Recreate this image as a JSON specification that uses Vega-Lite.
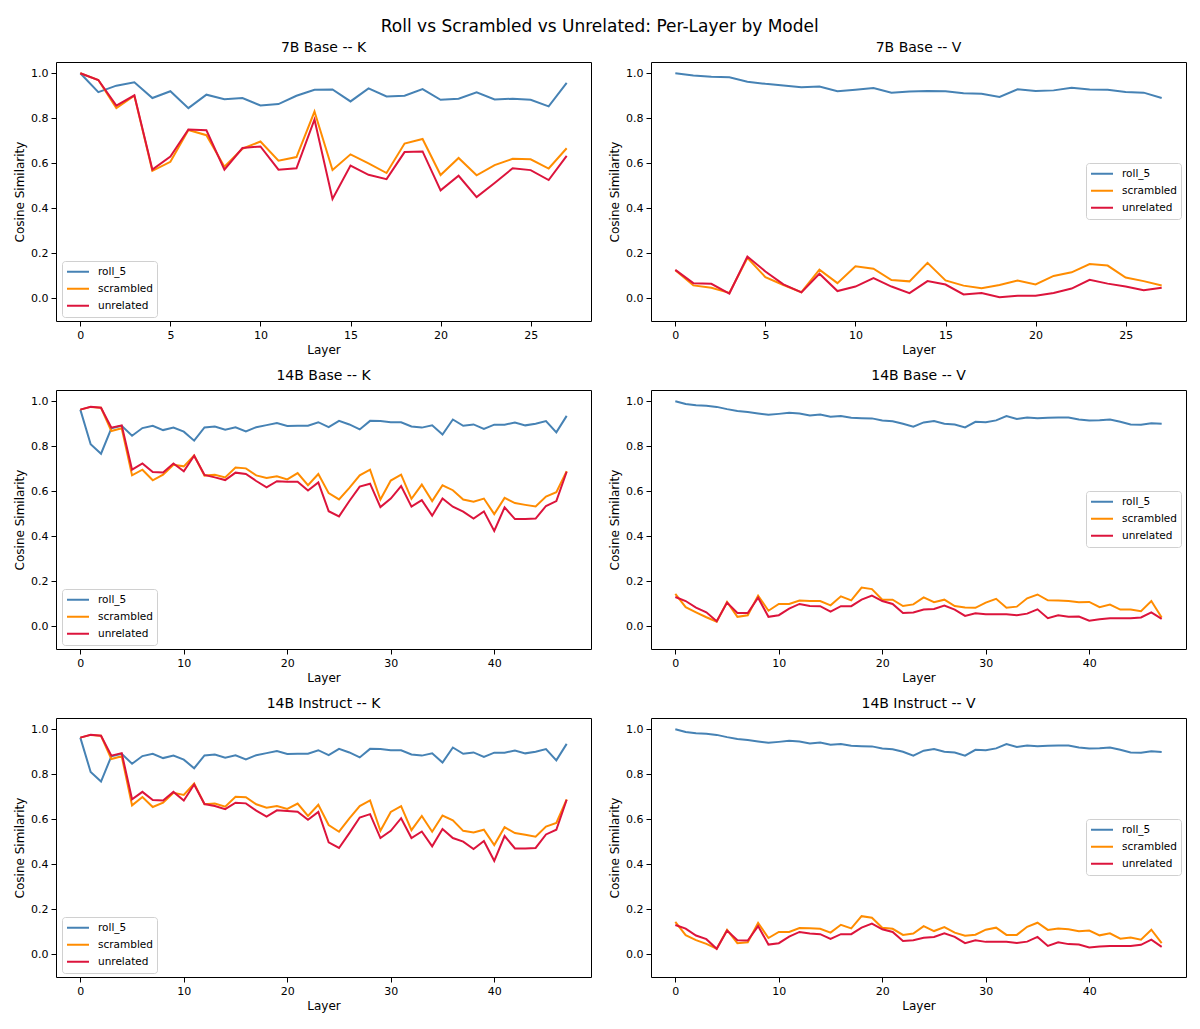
{
"$schema": "https://vega.github.io/schema/vega-lite/v6.json",
"padding": {"left": 13, "top": 17, "right": 5, "bottom": 5},
"title": {"text": "Roll vs Scrambled vs Unrelated: Per-Layer by Model", "fontSize": 17, "fontWeight": "normal", "font": "DejaVu Sans", "color": "black", "anchor": "middle", "offset": 5},
"config": {
  "font": "DejaVu Sans",
  "view": {"stroke": "black", "strokeWidth": 1},
  "axis": {"grid": false, "domain": false, "tickColor": "black", "tickSize": 5, "labelColor": "black", "labelFontSize": 11, "labelPadding": 3, "titleColor": "black", "titleFontSize": 12, "titleFontWeight": "normal", "titlePadding": 4},
  "title": {"fontSize": 14, "fontWeight": "normal", "color": "black", "offset": 7},
  "legend": {"title": null, "symbolType": "stroke", "symbolSize": 484, "symbolStrokeWidth": 2, "clipHeight": 13.5, "rowPadding": 3, "labelFontSize": 10.5, "labelColor": "black", "labelOffset": 8, "padding": 4, "strokeColor": "#d0d0d0", "fillColor": "rgba(255,255,255,0.8)", "cornerRadius": 3}
},
"datasets": {
"k7": [
{"l":0,"c":"roll_5","v":1.0},{"l":1,"c":"roll_5","v":0.916},{"l":2,"c":"roll_5","v":0.945},{"l":3,"c":"roll_5","v":0.96},{"l":4,"c":"roll_5","v":0.89},{"l":5,"c":"roll_5","v":0.92},{"l":6,"c":"roll_5","v":0.845},{"l":7,"c":"roll_5","v":0.905},{"l":8,"c":"roll_5","v":0.885},{"l":9,"c":"roll_5","v":0.89},{"l":10,"c":"roll_5","v":0.857},{"l":11,"c":"roll_5","v":0.863},{"l":12,"c":"roll_5","v":0.9},{"l":13,"c":"roll_5","v":0.927},{"l":14,"c":"roll_5","v":0.928},{"l":15,"c":"roll_5","v":0.875},{"l":16,"c":"roll_5","v":0.933},{"l":17,"c":"roll_5","v":0.897},{"l":18,"c":"roll_5","v":0.9},{"l":19,"c":"roll_5","v":0.93},{"l":20,"c":"roll_5","v":0.882},{"l":21,"c":"roll_5","v":0.887},{"l":22,"c":"roll_5","v":0.915},{"l":23,"c":"roll_5","v":0.884},{"l":24,"c":"roll_5","v":0.887},{"l":25,"c":"roll_5","v":0.882},{"l":26,"c":"roll_5","v":0.853},{"l":27,"c":"roll_5","v":0.957},
{"l":0,"c":"scrambled","v":1.0},{"l":1,"c":"scrambled","v":0.97},{"l":2,"c":"scrambled","v":0.845},{"l":3,"c":"scrambled","v":0.9},{"l":4,"c":"scrambled","v":0.567},{"l":5,"c":"scrambled","v":0.607},{"l":6,"c":"scrambled","v":0.748},{"l":7,"c":"scrambled","v":0.725},{"l":8,"c":"scrambled","v":0.585},{"l":9,"c":"scrambled","v":0.665},{"l":10,"c":"scrambled","v":0.697},{"l":11,"c":"scrambled","v":0.612},{"l":12,"c":"scrambled","v":0.628},{"l":13,"c":"scrambled","v":0.83},{"l":14,"c":"scrambled","v":0.57},{"l":15,"c":"scrambled","v":0.64},{"l":16,"c":"scrambled","v":0.6},{"l":17,"c":"scrambled","v":0.557},{"l":18,"c":"scrambled","v":0.688},{"l":19,"c":"scrambled","v":0.708},{"l":20,"c":"scrambled","v":0.548},{"l":21,"c":"scrambled","v":0.624},{"l":22,"c":"scrambled","v":0.547},{"l":23,"c":"scrambled","v":0.592},{"l":24,"c":"scrambled","v":0.62},{"l":25,"c":"scrambled","v":0.618},{"l":26,"c":"scrambled","v":0.577},{"l":27,"c":"scrambled","v":0.667},
{"l":0,"c":"unrelated","v":1.0},{"l":1,"c":"unrelated","v":0.97},{"l":2,"c":"unrelated","v":0.856},{"l":3,"c":"unrelated","v":0.902},{"l":4,"c":"unrelated","v":0.572},{"l":5,"c":"unrelated","v":0.63},{"l":6,"c":"unrelated","v":0.75},{"l":7,"c":"unrelated","v":0.747},{"l":8,"c":"unrelated","v":0.572},{"l":9,"c":"unrelated","v":0.668},{"l":10,"c":"unrelated","v":0.675},{"l":11,"c":"unrelated","v":0.572},{"l":12,"c":"unrelated","v":0.578},{"l":13,"c":"unrelated","v":0.795},{"l":14,"c":"unrelated","v":0.442},{"l":15,"c":"unrelated","v":0.59},{"l":16,"c":"unrelated","v":0.549},{"l":17,"c":"unrelated","v":0.53},{"l":18,"c":"unrelated","v":0.65},{"l":19,"c":"unrelated","v":0.653},{"l":20,"c":"unrelated","v":0.48},{"l":21,"c":"unrelated","v":0.545},{"l":22,"c":"unrelated","v":0.45},{"l":23,"c":"unrelated","v":0.513},{"l":24,"c":"unrelated","v":0.578},{"l":25,"c":"unrelated","v":0.57},{"l":26,"c":"unrelated","v":0.526},{"l":27,"c":"unrelated","v":0.633}
],
"v7": [
{"l":0,"c":"roll_5","v":1.0},{"l":1,"c":"roll_5","v":0.99},{"l":2,"c":"roll_5","v":0.984},{"l":3,"c":"roll_5","v":0.982},{"l":4,"c":"roll_5","v":0.962},{"l":5,"c":"roll_5","v":0.953},{"l":6,"c":"roll_5","v":0.946},{"l":7,"c":"roll_5","v":0.938},{"l":8,"c":"roll_5","v":0.941},{"l":9,"c":"roll_5","v":0.92},{"l":10,"c":"roll_5","v":0.927},{"l":11,"c":"roll_5","v":0.934},{"l":12,"c":"roll_5","v":0.914},{"l":13,"c":"roll_5","v":0.919},{"l":14,"c":"roll_5","v":0.921},{"l":15,"c":"roll_5","v":0.92},{"l":16,"c":"roll_5","v":0.911},{"l":17,"c":"roll_5","v":0.909},{"l":18,"c":"roll_5","v":0.895},{"l":19,"c":"roll_5","v":0.929},{"l":20,"c":"roll_5","v":0.921},{"l":21,"c":"roll_5","v":0.924},{"l":22,"c":"roll_5","v":0.936},{"l":23,"c":"roll_5","v":0.928},{"l":24,"c":"roll_5","v":0.927},{"l":25,"c":"roll_5","v":0.917},{"l":26,"c":"roll_5","v":0.914},{"l":27,"c":"roll_5","v":0.89},
{"l":0,"c":"scrambled","v":0.125},{"l":1,"c":"scrambled","v":0.058},{"l":2,"c":"scrambled","v":0.048},{"l":3,"c":"scrambled","v":0.025},{"l":4,"c":"scrambled","v":0.18},{"l":5,"c":"scrambled","v":0.095},{"l":6,"c":"scrambled","v":0.06},{"l":7,"c":"scrambled","v":0.028},{"l":8,"c":"scrambled","v":0.128},{"l":9,"c":"scrambled","v":0.068},{"l":10,"c":"scrambled","v":0.143},{"l":11,"c":"scrambled","v":0.132},{"l":12,"c":"scrambled","v":0.082},{"l":13,"c":"scrambled","v":0.076},{"l":14,"c":"scrambled","v":0.158},{"l":15,"c":"scrambled","v":0.08},{"l":16,"c":"scrambled","v":0.057},{"l":17,"c":"scrambled","v":0.046},{"l":18,"c":"scrambled","v":0.06},{"l":19,"c":"scrambled","v":0.08},{"l":20,"c":"scrambled","v":0.062},{"l":21,"c":"scrambled","v":0.1},{"l":22,"c":"scrambled","v":0.116},{"l":23,"c":"scrambled","v":0.153},{"l":24,"c":"scrambled","v":0.146},{"l":25,"c":"scrambled","v":0.093},{"l":26,"c":"scrambled","v":0.077},{"l":27,"c":"scrambled","v":0.058},
{"l":0,"c":"unrelated","v":0.127},{"l":1,"c":"unrelated","v":0.068},{"l":2,"c":"unrelated","v":0.065},{"l":3,"c":"unrelated","v":0.022},{"l":4,"c":"unrelated","v":0.186},{"l":5,"c":"unrelated","v":0.12},{"l":6,"c":"unrelated","v":0.063},{"l":7,"c":"unrelated","v":0.027},{"l":8,"c":"unrelated","v":0.11},{"l":9,"c":"unrelated","v":0.033},{"l":10,"c":"unrelated","v":0.053},{"l":11,"c":"unrelated","v":0.09},{"l":12,"c":"unrelated","v":0.053},{"l":13,"c":"unrelated","v":0.024},{"l":14,"c":"unrelated","v":0.077},{"l":15,"c":"unrelated","v":0.062},{"l":16,"c":"unrelated","v":0.018},{"l":17,"c":"unrelated","v":0.024},{"l":18,"c":"unrelated","v":0.006},{"l":19,"c":"unrelated","v":0.012},{"l":20,"c":"unrelated","v":0.012},{"l":21,"c":"unrelated","v":0.024},{"l":22,"c":"unrelated","v":0.044},{"l":23,"c":"unrelated","v":0.083},{"l":24,"c":"unrelated","v":0.066},{"l":25,"c":"unrelated","v":0.053},{"l":26,"c":"unrelated","v":0.037},{"l":27,"c":"unrelated","v":0.048}
],
"k14": [
{"l":0,"c":"roll_5","v":0.963},{"l":1,"c":"roll_5","v":0.809},{"l":2,"c":"roll_5","v":0.767},{"l":3,"c":"roll_5","v":0.88},{"l":4,"c":"roll_5","v":0.891},{"l":5,"c":"roll_5","v":0.847},{"l":6,"c":"roll_5","v":0.881},{"l":7,"c":"roll_5","v":0.891},{"l":8,"c":"roll_5","v":0.872},{"l":9,"c":"roll_5","v":0.883},{"l":10,"c":"roll_5","v":0.865},{"l":11,"c":"roll_5","v":0.825},{"l":12,"c":"roll_5","v":0.884},{"l":13,"c":"roll_5","v":0.888},{"l":14,"c":"roll_5","v":0.874},{"l":15,"c":"roll_5","v":0.884},{"l":16,"c":"roll_5","v":0.866},{"l":17,"c":"roll_5","v":0.885},{"l":18,"c":"roll_5","v":0.894},{"l":19,"c":"roll_5","v":0.903},{"l":20,"c":"roll_5","v":0.89},{"l":21,"c":"roll_5","v":0.891},{"l":22,"c":"roll_5","v":0.891},{"l":23,"c":"roll_5","v":0.907},{"l":24,"c":"roll_5","v":0.885},{"l":25,"c":"roll_5","v":0.913},{"l":26,"c":"roll_5","v":0.897},{"l":27,"c":"roll_5","v":0.875},{"l":28,"c":"roll_5","v":0.913},{"l":29,"c":"roll_5","v":0.912},{"l":30,"c":"roll_5","v":0.907},{"l":31,"c":"roll_5","v":0.907},{"l":32,"c":"roll_5","v":0.888},{"l":33,"c":"roll_5","v":0.883},{"l":34,"c":"roll_5","v":0.893},{"l":35,"c":"roll_5","v":0.852},{"l":36,"c":"roll_5","v":0.919},{"l":37,"c":"roll_5","v":0.891},{"l":38,"c":"roll_5","v":0.897},{"l":39,"c":"roll_5","v":0.877},{"l":40,"c":"roll_5","v":0.896},{"l":41,"c":"roll_5","v":0.896},{"l":42,"c":"roll_5","v":0.906},{"l":43,"c":"roll_5","v":0.893},{"l":44,"c":"roll_5","v":0.9},{"l":45,"c":"roll_5","v":0.912},{"l":46,"c":"roll_5","v":0.862},{"l":47,"c":"roll_5","v":0.935},
{"l":0,"c":"scrambled","v":0.963},{"l":1,"c":"scrambled","v":0.975},{"l":2,"c":"scrambled","v":0.971},{"l":3,"c":"scrambled","v":0.868},{"l":4,"c":"scrambled","v":0.88},{"l":5,"c":"scrambled","v":0.671},{"l":6,"c":"scrambled","v":0.696},{"l":7,"c":"scrambled","v":0.649},{"l":8,"c":"scrambled","v":0.674},{"l":9,"c":"scrambled","v":0.718},{"l":10,"c":"scrambled","v":0.711},{"l":11,"c":"scrambled","v":0.759},{"l":12,"c":"scrambled","v":0.67},{"l":13,"c":"scrambled","v":0.674},{"l":14,"c":"scrambled","v":0.662},{"l":15,"c":"scrambled","v":0.706},{"l":16,"c":"scrambled","v":0.702},{"l":17,"c":"scrambled","v":0.671},{"l":18,"c":"scrambled","v":0.659},{"l":19,"c":"scrambled","v":0.667},{"l":20,"c":"scrambled","v":0.653},{"l":21,"c":"scrambled","v":0.681},{"l":22,"c":"scrambled","v":0.627},{"l":23,"c":"scrambled","v":0.677},{"l":24,"c":"scrambled","v":0.592},{"l":25,"c":"scrambled","v":0.564},{"l":26,"c":"scrambled","v":0.615},{"l":27,"c":"scrambled","v":0.671},{"l":28,"c":"scrambled","v":0.696},{"l":29,"c":"scrambled","v":0.564},{"l":30,"c":"scrambled","v":0.648},{"l":31,"c":"scrambled","v":0.674},{"l":32,"c":"scrambled","v":0.567},{"l":33,"c":"scrambled","v":0.63},{"l":34,"c":"scrambled","v":0.557},{"l":35,"c":"scrambled","v":0.627},{"l":36,"c":"scrambled","v":0.605},{"l":37,"c":"scrambled","v":0.564},{"l":38,"c":"scrambled","v":0.554},{"l":39,"c":"scrambled","v":0.568},{"l":40,"c":"scrambled","v":0.499},{"l":41,"c":"scrambled","v":0.571},{"l":42,"c":"scrambled","v":0.548},{"l":43,"c":"scrambled","v":0.54},{"l":44,"c":"scrambled","v":0.533},{"l":45,"c":"scrambled","v":0.577},{"l":46,"c":"scrambled","v":0.596},{"l":47,"c":"scrambled","v":0.69},
{"l":0,"c":"unrelated","v":0.963},{"l":1,"c":"unrelated","v":0.976},{"l":2,"c":"unrelated","v":0.971},{"l":3,"c":"unrelated","v":0.883},{"l":4,"c":"unrelated","v":0.893},{"l":5,"c":"unrelated","v":0.696},{"l":6,"c":"unrelated","v":0.724},{"l":7,"c":"unrelated","v":0.686},{"l":8,"c":"unrelated","v":0.684},{"l":9,"c":"unrelated","v":0.724},{"l":10,"c":"unrelated","v":0.689},{"l":11,"c":"unrelated","v":0.758},{"l":12,"c":"unrelated","v":0.673},{"l":13,"c":"unrelated","v":0.662},{"l":14,"c":"unrelated","v":0.65},{"l":15,"c":"unrelated","v":0.683},{"l":16,"c":"unrelated","v":0.677},{"l":17,"c":"unrelated","v":0.646},{"l":18,"c":"unrelated","v":0.618},{"l":19,"c":"unrelated","v":0.645},{"l":20,"c":"unrelated","v":0.643},{"l":21,"c":"unrelated","v":0.643},{"l":22,"c":"unrelated","v":0.604},{"l":23,"c":"unrelated","v":0.64},{"l":24,"c":"unrelated","v":0.512},{"l":25,"c":"unrelated","v":0.489},{"l":26,"c":"unrelated","v":0.557},{"l":27,"c":"unrelated","v":0.621},{"l":28,"c":"unrelated","v":0.634},{"l":29,"c":"unrelated","v":0.53},{"l":30,"c":"unrelated","v":0.568},{"l":31,"c":"unrelated","v":0.623},{"l":32,"c":"unrelated","v":0.532},{"l":33,"c":"unrelated","v":0.561},{"l":34,"c":"unrelated","v":0.492},{"l":35,"c":"unrelated","v":0.568},{"l":36,"c":"unrelated","v":0.532},{"l":37,"c":"unrelated","v":0.51},{"l":38,"c":"unrelated","v":0.479},{"l":39,"c":"unrelated","v":0.511},{"l":40,"c":"unrelated","v":0.424},{"l":41,"c":"unrelated","v":0.529},{"l":42,"c":"unrelated","v":0.477},{"l":43,"c":"unrelated","v":0.477},{"l":44,"c":"unrelated","v":0.479},{"l":45,"c":"unrelated","v":0.535},{"l":46,"c":"unrelated","v":0.557},{"l":47,"c":"unrelated","v":0.687}
],
"v14": [
{"l":0,"c":"roll_5","v":1.0},{"l":1,"c":"roll_5","v":0.988},{"l":2,"c":"roll_5","v":0.982},{"l":3,"c":"roll_5","v":0.98},{"l":4,"c":"roll_5","v":0.975},{"l":5,"c":"roll_5","v":0.965},{"l":6,"c":"roll_5","v":0.957},{"l":7,"c":"roll_5","v":0.952},{"l":8,"c":"roll_5","v":0.946},{"l":9,"c":"roll_5","v":0.94},{"l":10,"c":"roll_5","v":0.944},{"l":11,"c":"roll_5","v":0.949},{"l":12,"c":"roll_5","v":0.946},{"l":13,"c":"roll_5","v":0.937},{"l":14,"c":"roll_5","v":0.941},{"l":15,"c":"roll_5","v":0.931},{"l":16,"c":"roll_5","v":0.934},{"l":17,"c":"roll_5","v":0.927},{"l":18,"c":"roll_5","v":0.925},{"l":19,"c":"roll_5","v":0.924},{"l":20,"c":"roll_5","v":0.915},{"l":21,"c":"roll_5","v":0.911},{"l":22,"c":"roll_5","v":0.9},{"l":23,"c":"roll_5","v":0.887},{"l":24,"c":"roll_5","v":0.906},{"l":25,"c":"roll_5","v":0.912},{"l":26,"c":"roll_5","v":0.9},{"l":27,"c":"roll_5","v":0.897},{"l":28,"c":"roll_5","v":0.884},{"l":29,"c":"roll_5","v":0.909},{"l":30,"c":"roll_5","v":0.907},{"l":31,"c":"roll_5","v":0.915},{"l":32,"c":"roll_5","v":0.934},{"l":33,"c":"roll_5","v":0.921},{"l":34,"c":"roll_5","v":0.928},{"l":35,"c":"roll_5","v":0.925},{"l":36,"c":"roll_5","v":0.927},{"l":37,"c":"roll_5","v":0.928},{"l":38,"c":"roll_5","v":0.928},{"l":39,"c":"roll_5","v":0.919},{"l":40,"c":"roll_5","v":0.915},{"l":41,"c":"roll_5","v":0.916},{"l":42,"c":"roll_5","v":0.919},{"l":43,"c":"roll_5","v":0.909},{"l":44,"c":"roll_5","v":0.897},{"l":45,"c":"roll_5","v":0.896},{"l":46,"c":"roll_5","v":0.902},{"l":47,"c":"roll_5","v":0.9},
{"l":0,"c":"scrambled","v":0.145},{"l":1,"c":"scrambled","v":0.086},{"l":2,"c":"scrambled","v":0.063},{"l":3,"c":"scrambled","v":0.041},{"l":4,"c":"scrambled","v":0.021},{"l":5,"c":"scrambled","v":0.109},{"l":6,"c":"scrambled","v":0.043},{"l":7,"c":"scrambled","v":0.05},{"l":8,"c":"scrambled","v":0.137},{"l":9,"c":"scrambled","v":0.07},{"l":10,"c":"scrambled","v":0.1},{"l":11,"c":"scrambled","v":0.1},{"l":12,"c":"scrambled","v":0.115},{"l":13,"c":"scrambled","v":0.113},{"l":14,"c":"scrambled","v":0.113},{"l":15,"c":"scrambled","v":0.094},{"l":16,"c":"scrambled","v":0.134},{"l":17,"c":"scrambled","v":0.116},{"l":18,"c":"scrambled","v":0.173},{"l":19,"c":"scrambled","v":0.166},{"l":20,"c":"scrambled","v":0.119},{"l":21,"c":"scrambled","v":0.119},{"l":22,"c":"scrambled","v":0.091},{"l":23,"c":"scrambled","v":0.098},{"l":24,"c":"scrambled","v":0.129},{"l":25,"c":"scrambled","v":0.108},{"l":26,"c":"scrambled","v":0.119},{"l":27,"c":"scrambled","v":0.091},{"l":28,"c":"scrambled","v":0.084},{"l":29,"c":"scrambled","v":0.083},{"l":30,"c":"scrambled","v":0.106},{"l":31,"c":"scrambled","v":0.123},{"l":32,"c":"scrambled","v":0.083},{"l":33,"c":"scrambled","v":0.088},{"l":34,"c":"scrambled","v":0.125},{"l":35,"c":"scrambled","v":0.142},{"l":36,"c":"scrambled","v":0.116},{"l":37,"c":"scrambled","v":0.115},{"l":38,"c":"scrambled","v":0.113},{"l":39,"c":"scrambled","v":0.108},{"l":40,"c":"scrambled","v":0.109},{"l":41,"c":"scrambled","v":0.086},{"l":42,"c":"scrambled","v":0.097},{"l":43,"c":"scrambled","v":0.075},{"l":44,"c":"scrambled","v":0.075},{"l":45,"c":"scrambled","v":0.068},{"l":46,"c":"scrambled","v":0.113},{"l":47,"c":"scrambled","v":0.04},
{"l":0,"c":"unrelated","v":0.131},{"l":1,"c":"unrelated","v":0.113},{"l":2,"c":"unrelated","v":0.084},{"l":3,"c":"unrelated","v":0.063},{"l":4,"c":"unrelated","v":0.023},{"l":5,"c":"unrelated","v":0.106},{"l":6,"c":"unrelated","v":0.06},{"l":7,"c":"unrelated","v":0.06},{"l":8,"c":"unrelated","v":0.128},{"l":9,"c":"unrelated","v":0.043},{"l":10,"c":"unrelated","v":0.05},{"l":11,"c":"unrelated","v":0.079},{"l":12,"c":"unrelated","v":0.1},{"l":13,"c":"unrelated","v":0.091},{"l":14,"c":"unrelated","v":0.09},{"l":15,"c":"unrelated","v":0.066},{"l":16,"c":"unrelated","v":0.09},{"l":17,"c":"unrelated","v":0.09},{"l":18,"c":"unrelated","v":0.119},{"l":19,"c":"unrelated","v":0.137},{"l":20,"c":"unrelated","v":0.113},{"l":21,"c":"unrelated","v":0.1},{"l":22,"c":"unrelated","v":0.06},{"l":23,"c":"unrelated","v":0.062},{"l":24,"c":"unrelated","v":0.075},{"l":25,"c":"unrelated","v":0.078},{"l":26,"c":"unrelated","v":0.093},{"l":27,"c":"unrelated","v":0.075},{"l":28,"c":"unrelated","v":0.047},{"l":29,"c":"unrelated","v":0.059},{"l":30,"c":"unrelated","v":0.054},{"l":31,"c":"unrelated","v":0.054},{"l":32,"c":"unrelated","v":0.054},{"l":33,"c":"unrelated","v":0.05},{"l":34,"c":"unrelated","v":0.057},{"l":35,"c":"unrelated","v":0.076},{"l":36,"c":"unrelated","v":0.037},{"l":37,"c":"unrelated","v":0.05},{"l":38,"c":"unrelated","v":0.043},{"l":39,"c":"unrelated","v":0.044},{"l":40,"c":"unrelated","v":0.026},{"l":41,"c":"unrelated","v":0.032},{"l":42,"c":"unrelated","v":0.037},{"l":43,"c":"unrelated","v":0.037},{"l":44,"c":"unrelated","v":0.037},{"l":45,"c":"unrelated","v":0.04},{"l":46,"c":"unrelated","v":0.063},{"l":47,"c":"unrelated","v":0.034}
],
"k14i": [
{"l":0,"c":"roll_5","v":0.963},{"l":1,"c":"roll_5","v":0.81},{"l":2,"c":"roll_5","v":0.768},{"l":3,"c":"roll_5","v":0.88},{"l":4,"c":"roll_5","v":0.891},{"l":5,"c":"roll_5","v":0.847},{"l":6,"c":"roll_5","v":0.881},{"l":7,"c":"roll_5","v":0.891},{"l":8,"c":"roll_5","v":0.872},{"l":9,"c":"roll_5","v":0.883},{"l":10,"c":"roll_5","v":0.865},{"l":11,"c":"roll_5","v":0.827},{"l":12,"c":"roll_5","v":0.884},{"l":13,"c":"roll_5","v":0.888},{"l":14,"c":"roll_5","v":0.874},{"l":15,"c":"roll_5","v":0.884},{"l":16,"c":"roll_5","v":0.866},{"l":17,"c":"roll_5","v":0.885},{"l":18,"c":"roll_5","v":0.894},{"l":19,"c":"roll_5","v":0.903},{"l":20,"c":"roll_5","v":0.89},{"l":21,"c":"roll_5","v":0.891},{"l":22,"c":"roll_5","v":0.891},{"l":23,"c":"roll_5","v":0.907},{"l":24,"c":"roll_5","v":0.885},{"l":25,"c":"roll_5","v":0.913},{"l":26,"c":"roll_5","v":0.897},{"l":27,"c":"roll_5","v":0.875},{"l":28,"c":"roll_5","v":0.913},{"l":29,"c":"roll_5","v":0.912},{"l":30,"c":"roll_5","v":0.907},{"l":31,"c":"roll_5","v":0.907},{"l":32,"c":"roll_5","v":0.888},{"l":33,"c":"roll_5","v":0.883},{"l":34,"c":"roll_5","v":0.893},{"l":35,"c":"roll_5","v":0.852},{"l":36,"c":"roll_5","v":0.919},{"l":37,"c":"roll_5","v":0.891},{"l":38,"c":"roll_5","v":0.897},{"l":39,"c":"roll_5","v":0.877},{"l":40,"c":"roll_5","v":0.896},{"l":41,"c":"roll_5","v":0.896},{"l":42,"c":"roll_5","v":0.906},{"l":43,"c":"roll_5","v":0.893},{"l":44,"c":"roll_5","v":0.9},{"l":45,"c":"roll_5","v":0.912},{"l":46,"c":"roll_5","v":0.862},{"l":47,"c":"roll_5","v":0.935},
{"l":0,"c":"scrambled","v":0.963},{"l":1,"c":"scrambled","v":0.975},{"l":2,"c":"scrambled","v":0.971},{"l":3,"c":"scrambled","v":0.868},{"l":4,"c":"scrambled","v":0.88},{"l":5,"c":"scrambled","v":0.662},{"l":6,"c":"scrambled","v":0.699},{"l":7,"c":"scrambled","v":0.655},{"l":8,"c":"scrambled","v":0.674},{"l":9,"c":"scrambled","v":0.718},{"l":10,"c":"scrambled","v":0.708},{"l":11,"c":"scrambled","v":0.759},{"l":12,"c":"scrambled","v":0.667},{"l":13,"c":"scrambled","v":0.67},{"l":14,"c":"scrambled","v":0.656},{"l":15,"c":"scrambled","v":0.7},{"l":16,"c":"scrambled","v":0.698},{"l":17,"c":"scrambled","v":0.667},{"l":18,"c":"scrambled","v":0.652},{"l":19,"c":"scrambled","v":0.659},{"l":20,"c":"scrambled","v":0.646},{"l":21,"c":"scrambled","v":0.67},{"l":22,"c":"scrambled","v":0.615},{"l":23,"c":"scrambled","v":0.665},{"l":24,"c":"scrambled","v":0.575},{"l":25,"c":"scrambled","v":0.545},{"l":26,"c":"scrambled","v":0.604},{"l":27,"c":"scrambled","v":0.659},{"l":28,"c":"scrambled","v":0.684},{"l":29,"c":"scrambled","v":0.549},{"l":30,"c":"scrambled","v":0.633},{"l":31,"c":"scrambled","v":0.659},{"l":32,"c":"scrambled","v":0.552},{"l":33,"c":"scrambled","v":0.615},{"l":34,"c":"scrambled","v":0.545},{"l":35,"c":"scrambled","v":0.617},{"l":36,"c":"scrambled","v":0.596},{"l":37,"c":"scrambled","v":0.549},{"l":38,"c":"scrambled","v":0.542},{"l":39,"c":"scrambled","v":0.554},{"l":40,"c":"scrambled","v":0.486},{"l":41,"c":"scrambled","v":0.565},{"l":42,"c":"scrambled","v":0.539},{"l":43,"c":"scrambled","v":0.532},{"l":44,"c":"scrambled","v":0.523},{"l":45,"c":"scrambled","v":0.568},{"l":46,"c":"scrambled","v":0.584},{"l":47,"c":"scrambled","v":0.689},
{"l":0,"c":"unrelated","v":0.963},{"l":1,"c":"unrelated","v":0.976},{"l":2,"c":"unrelated","v":0.971},{"l":3,"c":"unrelated","v":0.883},{"l":4,"c":"unrelated","v":0.894},{"l":5,"c":"unrelated","v":0.689},{"l":6,"c":"unrelated","v":0.722},{"l":7,"c":"unrelated","v":0.686},{"l":8,"c":"unrelated","v":0.684},{"l":9,"c":"unrelated","v":0.722},{"l":10,"c":"unrelated","v":0.684},{"l":11,"c":"unrelated","v":0.755},{"l":12,"c":"unrelated","v":0.668},{"l":13,"c":"unrelated","v":0.659},{"l":14,"c":"unrelated","v":0.645},{"l":15,"c":"unrelated","v":0.674},{"l":16,"c":"unrelated","v":0.671},{"l":17,"c":"unrelated","v":0.639},{"l":18,"c":"unrelated","v":0.612},{"l":19,"c":"unrelated","v":0.64},{"l":20,"c":"unrelated","v":0.637},{"l":21,"c":"unrelated","v":0.634},{"l":22,"c":"unrelated","v":0.598},{"l":23,"c":"unrelated","v":0.633},{"l":24,"c":"unrelated","v":0.498},{"l":25,"c":"unrelated","v":0.473},{"l":26,"c":"unrelated","v":0.539},{"l":27,"c":"unrelated","v":0.608},{"l":28,"c":"unrelated","v":0.623},{"l":29,"c":"unrelated","v":0.517},{"l":30,"c":"unrelated","v":0.549},{"l":31,"c":"unrelated","v":0.605},{"l":32,"c":"unrelated","v":0.517},{"l":33,"c":"unrelated","v":0.546},{"l":34,"c":"unrelated","v":0.48},{"l":35,"c":"unrelated","v":0.557},{"l":36,"c":"unrelated","v":0.517},{"l":37,"c":"unrelated","v":0.501},{"l":38,"c":"unrelated","v":0.468},{"l":39,"c":"unrelated","v":0.504},{"l":40,"c":"unrelated","v":0.416},{"l":41,"c":"unrelated","v":0.526},{"l":42,"c":"unrelated","v":0.471},{"l":43,"c":"unrelated","v":0.471},{"l":44,"c":"unrelated","v":0.473},{"l":45,"c":"unrelated","v":0.533},{"l":46,"c":"unrelated","v":0.554},{"l":47,"c":"unrelated","v":0.687}
],
"v14i": [
{"l":0,"c":"roll_5","v":1.0},{"l":1,"c":"roll_5","v":0.988},{"l":2,"c":"roll_5","v":0.982},{"l":3,"c":"roll_5","v":0.98},{"l":4,"c":"roll_5","v":0.975},{"l":5,"c":"roll_5","v":0.965},{"l":6,"c":"roll_5","v":0.957},{"l":7,"c":"roll_5","v":0.952},{"l":8,"c":"roll_5","v":0.946},{"l":9,"c":"roll_5","v":0.94},{"l":10,"c":"roll_5","v":0.944},{"l":11,"c":"roll_5","v":0.949},{"l":12,"c":"roll_5","v":0.946},{"l":13,"c":"roll_5","v":0.937},{"l":14,"c":"roll_5","v":0.941},{"l":15,"c":"roll_5","v":0.931},{"l":16,"c":"roll_5","v":0.934},{"l":17,"c":"roll_5","v":0.927},{"l":18,"c":"roll_5","v":0.925},{"l":19,"c":"roll_5","v":0.924},{"l":20,"c":"roll_5","v":0.915},{"l":21,"c":"roll_5","v":0.911},{"l":22,"c":"roll_5","v":0.9},{"l":23,"c":"roll_5","v":0.883},{"l":24,"c":"roll_5","v":0.905},{"l":25,"c":"roll_5","v":0.912},{"l":26,"c":"roll_5","v":0.9},{"l":27,"c":"roll_5","v":0.897},{"l":28,"c":"roll_5","v":0.883},{"l":29,"c":"roll_5","v":0.909},{"l":30,"c":"roll_5","v":0.907},{"l":31,"c":"roll_5","v":0.915},{"l":32,"c":"roll_5","v":0.934},{"l":33,"c":"roll_5","v":0.921},{"l":34,"c":"roll_5","v":0.928},{"l":35,"c":"roll_5","v":0.925},{"l":36,"c":"roll_5","v":0.927},{"l":37,"c":"roll_5","v":0.928},{"l":38,"c":"roll_5","v":0.928},{"l":39,"c":"roll_5","v":0.919},{"l":40,"c":"roll_5","v":0.915},{"l":41,"c":"roll_5","v":0.916},{"l":42,"c":"roll_5","v":0.919},{"l":43,"c":"roll_5","v":0.909},{"l":44,"c":"roll_5","v":0.897},{"l":45,"c":"roll_5","v":0.896},{"l":46,"c":"roll_5","v":0.902},{"l":47,"c":"roll_5","v":0.899},
{"l":0,"c":"scrambled","v":0.145},{"l":1,"c":"scrambled","v":0.086},{"l":2,"c":"scrambled","v":0.064},{"l":3,"c":"scrambled","v":0.047},{"l":4,"c":"scrambled","v":0.026},{"l":5,"c":"scrambled","v":0.109},{"l":6,"c":"scrambled","v":0.05},{"l":7,"c":"scrambled","v":0.054},{"l":8,"c":"scrambled","v":0.14},{"l":9,"c":"scrambled","v":0.073},{"l":10,"c":"scrambled","v":0.1},{"l":11,"c":"scrambled","v":0.1},{"l":12,"c":"scrambled","v":0.117},{"l":13,"c":"scrambled","v":0.116},{"l":14,"c":"scrambled","v":0.114},{"l":15,"c":"scrambled","v":0.097},{"l":16,"c":"scrambled","v":0.132},{"l":17,"c":"scrambled","v":0.116},{"l":18,"c":"scrambled","v":0.17},{"l":19,"c":"scrambled","v":0.163},{"l":20,"c":"scrambled","v":0.119},{"l":21,"c":"scrambled","v":0.114},{"l":22,"c":"scrambled","v":0.087},{"l":23,"c":"scrambled","v":0.093},{"l":24,"c":"scrambled","v":0.126},{"l":25,"c":"scrambled","v":0.104},{"l":26,"c":"scrambled","v":0.122},{"l":27,"c":"scrambled","v":0.097},{"l":28,"c":"scrambled","v":0.083},{"l":29,"c":"scrambled","v":0.088},{"l":30,"c":"scrambled","v":0.11},{"l":31,"c":"scrambled","v":0.119},{"l":32,"c":"scrambled","v":0.087},{"l":33,"c":"scrambled","v":0.087},{"l":34,"c":"scrambled","v":0.123},{"l":35,"c":"scrambled","v":0.141},{"l":36,"c":"scrambled","v":0.109},{"l":37,"c":"scrambled","v":0.115},{"l":38,"c":"scrambled","v":0.112},{"l":39,"c":"scrambled","v":0.103},{"l":40,"c":"scrambled","v":0.106},{"l":41,"c":"scrambled","v":0.085},{"l":42,"c":"scrambled","v":0.094},{"l":43,"c":"scrambled","v":0.07},{"l":44,"c":"scrambled","v":0.075},{"l":45,"c":"scrambled","v":0.066},{"l":46,"c":"scrambled","v":0.11},{"l":47,"c":"scrambled","v":0.05},
{"l":0,"c":"unrelated","v":0.131},{"l":1,"c":"unrelated","v":0.115},{"l":2,"c":"unrelated","v":0.084},{"l":3,"c":"unrelated","v":0.068},{"l":4,"c":"unrelated","v":0.025},{"l":5,"c":"unrelated","v":0.106},{"l":6,"c":"unrelated","v":0.063},{"l":7,"c":"unrelated","v":0.062},{"l":8,"c":"unrelated","v":0.126},{"l":9,"c":"unrelated","v":0.044},{"l":10,"c":"unrelated","v":0.05},{"l":11,"c":"unrelated","v":0.079},{"l":12,"c":"unrelated","v":0.1},{"l":13,"c":"unrelated","v":0.093},{"l":14,"c":"unrelated","v":0.09},{"l":15,"c":"unrelated","v":0.069},{"l":16,"c":"unrelated","v":0.09},{"l":17,"c":"unrelated","v":0.09},{"l":18,"c":"unrelated","v":0.119},{"l":19,"c":"unrelated","v":0.137},{"l":20,"c":"unrelated","v":0.112},{"l":21,"c":"unrelated","v":0.1},{"l":22,"c":"unrelated","v":0.06},{"l":23,"c":"unrelated","v":0.063},{"l":24,"c":"unrelated","v":0.074},{"l":25,"c":"unrelated","v":0.078},{"l":26,"c":"unrelated","v":0.094},{"l":27,"c":"unrelated","v":0.078},{"l":28,"c":"unrelated","v":0.05},{"l":29,"c":"unrelated","v":0.063},{"l":30,"c":"unrelated","v":0.056},{"l":31,"c":"unrelated","v":0.056},{"l":32,"c":"unrelated","v":0.056},{"l":33,"c":"unrelated","v":0.051},{"l":34,"c":"unrelated","v":0.057},{"l":35,"c":"unrelated","v":0.078},{"l":36,"c":"unrelated","v":0.038},{"l":37,"c":"unrelated","v":0.054},{"l":38,"c":"unrelated","v":0.046},{"l":39,"c":"unrelated","v":0.044},{"l":40,"c":"unrelated","v":0.031},{"l":41,"c":"unrelated","v":0.035},{"l":42,"c":"unrelated","v":0.038},{"l":43,"c":"unrelated","v":0.038},{"l":44,"c":"unrelated","v":0.038},{"l":45,"c":"unrelated","v":0.043},{"l":46,"c":"unrelated","v":0.066},{"l":47,"c":"unrelated","v":0.034}
]
},
"columns": 2,
"spacing": {"row": 12, "column": 16},
"resolve": {"scale": {"x": "independent", "y": "independent", "color": "shared"}, "legend": {"color": "independent"}},
"concat": [
{"title": "7B Base -- K", "width": 535, "height": 259, "data": {"name": "k7"},
 "mark": {"type": "line", "strokeWidth": 2, "clip": true},
 "encoding": {
  "x": {"field": "l", "type": "quantitative", "title": "Layer", "scale": {"domain": [-1.35, 28.35], "nice": false, "zero": false}, "axis": {"values": [0, 5, 10, 15, 20, 25], "format": "d"}},
  "y": {"field": "v", "type": "quantitative", "title": "Cosine Similarity", "scale": {"domain": [-0.1, 1.05], "nice": false, "zero": false}, "axis": {"values": [0, 0.2, 0.4, 0.6, 0.8, 1.0], "format": ".1f"}},
  "color": {"field": "c", "type": "nominal", "scale": {"domain": ["roll_5", "scrambled", "unrelated"], "range": ["#4682b4", "#ff8c00", "#dc143c"]}, "legend": {"orient": "none", "legendX": 6, "legendY": 199}}
 }},
{"title": "7B Base -- V", "width": 535, "height": 259, "data": {"name": "v7"},
 "mark": {"type": "line", "strokeWidth": 2, "clip": true},
 "encoding": {
  "x": {"field": "l", "type": "quantitative", "title": "Layer", "scale": {"domain": [-1.35, 28.35], "nice": false, "zero": false}, "axis": {"values": [0, 5, 10, 15, 20, 25], "format": "d"}},
  "y": {"field": "v", "type": "quantitative", "title": "Cosine Similarity", "scale": {"domain": [-0.1, 1.05], "nice": false, "zero": false}, "axis": {"values": [0, 0.2, 0.4, 0.6, 0.8, 1.0], "format": ".1f"}},
  "color": {"field": "c", "type": "nominal", "scale": {"domain": ["roll_5", "scrambled", "unrelated"], "range": ["#4682b4", "#ff8c00", "#dc143c"]}, "legend": {"orient": "none", "legendX": 435, "legendY": 101}}
 }},
{"title": "14B Base -- K", "width": 535, "height": 259, "data": {"name": "k14"},
 "mark": {"type": "line", "strokeWidth": 2, "clip": true},
 "encoding": {
  "x": {"field": "l", "type": "quantitative", "title": "Layer", "scale": {"domain": [-2.35, 49.35], "nice": false, "zero": false}, "axis": {"values": [0, 10, 20, 30, 40], "format": "d"}},
  "y": {"field": "v", "type": "quantitative", "title": "Cosine Similarity", "scale": {"domain": [-0.1, 1.05], "nice": false, "zero": false}, "axis": {"values": [0, 0.2, 0.4, 0.6, 0.8, 1.0], "format": ".1f"}},
  "color": {"field": "c", "type": "nominal", "scale": {"domain": ["roll_5", "scrambled", "unrelated"], "range": ["#4682b4", "#ff8c00", "#dc143c"]}, "legend": {"orient": "none", "legendX": 6, "legendY": 199}}
 }},
{"title": "14B Base -- V", "width": 535, "height": 259, "data": {"name": "v14"},
 "mark": {"type": "line", "strokeWidth": 2, "clip": true},
 "encoding": {
  "x": {"field": "l", "type": "quantitative", "title": "Layer", "scale": {"domain": [-2.35, 49.35], "nice": false, "zero": false}, "axis": {"values": [0, 10, 20, 30, 40], "format": "d"}},
  "y": {"field": "v", "type": "quantitative", "title": "Cosine Similarity", "scale": {"domain": [-0.1, 1.05], "nice": false, "zero": false}, "axis": {"values": [0, 0.2, 0.4, 0.6, 0.8, 1.0], "format": ".1f"}},
  "color": {"field": "c", "type": "nominal", "scale": {"domain": ["roll_5", "scrambled", "unrelated"], "range": ["#4682b4", "#ff8c00", "#dc143c"]}, "legend": {"orient": "none", "legendX": 435, "legendY": 101}}
 }},
{"title": "14B Instruct -- K", "width": 535, "height": 259, "data": {"name": "k14i"},
 "mark": {"type": "line", "strokeWidth": 2, "clip": true},
 "encoding": {
  "x": {"field": "l", "type": "quantitative", "title": "Layer", "scale": {"domain": [-2.35, 49.35], "nice": false, "zero": false}, "axis": {"values": [0, 10, 20, 30, 40], "format": "d"}},
  "y": {"field": "v", "type": "quantitative", "title": "Cosine Similarity", "scale": {"domain": [-0.1, 1.05], "nice": false, "zero": false}, "axis": {"values": [0, 0.2, 0.4, 0.6, 0.8, 1.0], "format": ".1f"}},
  "color": {"field": "c", "type": "nominal", "scale": {"domain": ["roll_5", "scrambled", "unrelated"], "range": ["#4682b4", "#ff8c00", "#dc143c"]}, "legend": {"orient": "none", "legendX": 6, "legendY": 199}}
 }},
{"title": "14B Instruct -- V", "width": 535, "height": 259, "data": {"name": "v14i"},
 "mark": {"type": "line", "strokeWidth": 2, "clip": true},
 "encoding": {
  "x": {"field": "l", "type": "quantitative", "title": "Layer", "scale": {"domain": [-2.35, 49.35], "nice": false, "zero": false}, "axis": {"values": [0, 10, 20, 30, 40], "format": "d"}},
  "y": {"field": "v", "type": "quantitative", "title": "Cosine Similarity", "scale": {"domain": [-0.1, 1.05], "nice": false, "zero": false}, "axis": {"values": [0, 0.2, 0.4, 0.6, 0.8, 1.0], "format": ".1f"}},
  "color": {"field": "c", "type": "nominal", "scale": {"domain": ["roll_5", "scrambled", "unrelated"], "range": ["#4682b4", "#ff8c00", "#dc143c"]}, "legend": {"orient": "none", "legendX": 435, "legendY": 101}}
 }}
]
}
